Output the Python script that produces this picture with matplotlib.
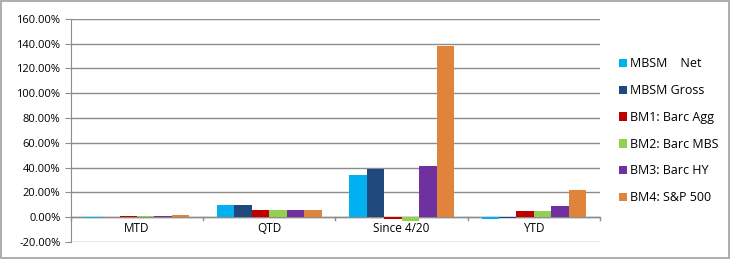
import numpy as np
import matplotlib.pyplot as plt
from matplotlib.ticker import FuncFormatter

plt.rcParams['font.family'] = ['Open Sans', 'DejaVu Sans']

categories = ['MTD', 'QTD', 'Since 4/20', 'YTD']
series = ['MBSM    Net', 'MBSM Gross', 'BM1: Barc Agg', 'BM2: Barc MBS', 'BM3: Barc HY', 'BM4: S&P 500']
colors = ['#00b0f0', '#1f497d', '#c00000', '#92d050', '#7030a0', '#e0843c']

mbsm_net = [-0.5, 9.5, 33.8, -1.5]
mbsm_gross = [-0.3, 10.0, 38.7, -0.5]
bm1_agg = [1.2, 6.0, -1.5, 5.3]
bm2_mbs = [0.8, 6.0, -3.0, 5.0]
bm3_hy = [1.2, 6.0, 41.4, 8.6]
bm4_sp = [1.5, 5.5, 138.5, 22.0]
values = [mbsm_net, mbsm_gross, bm1_agg, bm2_mbs, bm3_hy, bm4_sp]

fig = plt.figure(figsize=(7.3, 2.59), dpi=100)
fig.patches.append(plt.Rectangle((0.001, 0.002), 0.997, 0.995, transform=fig.transFigure,
                                 fill=False, edgecolor='#a0a0a0', linewidth=1.2))
ax = fig.add_axes([0.097, 0.066, 0.725, 0.861])

x = np.arange(len(categories))
w = 0.132
for i, (name, vals) in enumerate(zip(series, values)):
    ax.bar(x + (i - 2.5) * w, vals, width=w, color=colors[i], label=name, zorder=3)

ax.set_xlim(-0.5, 3.5)
ax.set_ylim(-20, 160)
ax.set_yticks(np.arange(-20, 161, 20))
ax.yaxis.set_major_formatter(FuncFormatter(lambda v, p: '%.2f%%' % v))
ax.yaxis.grid(True, color='#8c8c8c', linewidth=1.0, zorder=0)
ax.tick_params(axis='y', length=4, color='#8c8c8c', labelsize=8)
ax.set_xticks([])
for s in ['top', 'right', 'bottom']:
    ax.spines[s].set_visible(False)
ax.spines['left'].set_color('#8c8c8c')
ax.axhline(0, color='#8c8c8c', linewidth=1.0, zorder=2)
for b in np.arange(-0.5, 3.6, 1.0):
    ax.plot([b, b], [0, -2.2], color='#8c8c8c', linewidth=1.0, clip_on=False, zorder=2)
for xi, c in zip(x, categories):
    ax.text(xi, -9.5, c, ha='center', va='center', fontsize=8.5)

leg = fig.legend(loc='upper left', bbox_to_anchor=(0.848, 0.778), frameon=False, fontsize=9,
                 handlelength=0.65, handleheight=0.65, handletextpad=0.25, labelspacing=1.1,
                 borderaxespad=0, borderpad=0)

fig.savefig('out.png', dpi=100)
